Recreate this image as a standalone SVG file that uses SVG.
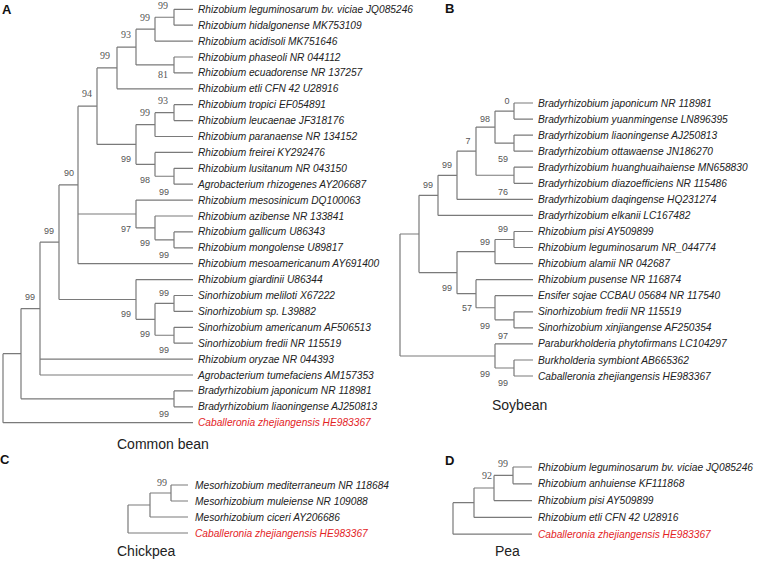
<svg xmlns="http://www.w3.org/2000/svg" width="760" height="561" viewBox="0 0 760 561">
<style>
.br{stroke:#7a7a7a;stroke-width:1.2;fill:none}
.lf{font-family:'Liberation Sans',Arial,sans-serif;font-style:italic;font-size:10.2px;fill:#222}
.red{fill:#e3241f}
.bs{font-family:'Liberation Serif','Times New Roman',serif;font-size:10px;fill:#555;text-anchor:middle}
.bn{font-family:'Liberation Sans',Arial,sans-serif;font-size:9px;fill:#555;text-anchor:middle}
.ttl{font-family:'Liberation Sans',Arial,sans-serif;font-size:14px;fill:#222}
.pl{font-family:'Liberation Sans',Arial,sans-serif;font-weight:bold;font-size:13px;fill:#111}
</style>
<rect width="760" height="561" fill="#fff"/>
<g id="connectors">
<path class="br" d="M3,353.7V422.7M3,353.7H21M3,422.7H193
M21,308.6V398.85M21,308.6H40M21,398.85H174
M40,242.2V375M40,242.2H59M40,359.1H193M40,375H193
M59,184.95V299.5M59,184.95H78M59,299.5H136
M78,106.2V263.7M78,106.2H97M78,214H136M78,263.7H193
M97,67.95V144.45M97,67.95H117M97,144.45H136
M117,47.1V88.8M117,47.1H136M117,88.8H193
M136,29.2V64.95M136,29.2H155M136,64.95H174
M155,17.25V41.1M155,17.25H174M155,41.1H193
M174,9.3V25.2M174,9.3H193M174,25.2H193
M174,57V72.9M174,57H193M174,72.9H193
M136,124.6V164.3M136,124.6H155M136,164.3H155
M155,112.65V136.5M155,112.65H174M155,136.5H193
M174,104.7V120.6M174,104.7H193M174,120.6H193
M155,152.4V176.25M155,152.4H193M155,176.25H174
M174,168.3V184.2M174,168.3H193M174,184.2H193
M136,200.1V227.9M136,200.1H193M136,227.9H155
M155,216V239.85M155,216H193M155,239.85H174
M174,231.9V247.8M174,231.9H193M174,247.8H193
M136,279.6V319.35M136,279.6H193M136,319.35H155
M155,303.45V335.25M155,303.45H174M155,335.25H174
M174,295.5V311.4M174,295.5H193M174,311.4H193
M174,327.3V343.2M174,327.3H193M174,343.2H193
M174,390.9V406.8M174,390.9H193M174,406.8H193"/>
<path class="br" d="M400,234V356M400,234H419M400,356H495
M419,195.35V272.6M419,195.35H438M419,272.6H457
M438,175.3V215.4M438,175.3H457M438,215.4H533
M457,151.2V199.4M457,151.2H476M457,199.4H533
M476,127.1V175.25M476,127.1H495M476,175.25H514
M495,111.05V143.15M495,111.05H514M495,143.15H514
M514,103V119.1M514,103H533M514,119.1H533
M514,135.1V151.2M514,135.1H533M514,151.2H533
M514,167.2V183.3M514,167.2H533M514,183.3H533
M457,251.55V293.7M457,251.55H495M457,293.7H476
M495,239.5V263.6M495,239.5H514M495,263.6H533
M514,231.5V247.5M514,231.5H533M514,247.5H533
M476,279.7V307.75M476,279.7H533M476,307.75H495
M495,295.7V319.8M495,295.7H533M495,319.8H514
M514,311.8V327.8M514,311.8H533M514,327.8H533
M495,343.9V368M495,343.9H533M495,368H514
M514,360V376M514,360H533M514,376H533"/>
<path class="br" d="M128,505V533M128,505H150M128,533H188
M150,493V517M150,493H171M150,517H188
M171,485V501M171,485H188M171,501H188"/>
<path class="br" d="M453,502.7V534.2M453,502.7H474M453,534.2H532
M474,488V517.4M474,488H494M474,517.4H532
M494,475.4V500.6M494,475.4H513M494,500.6H532
M513,467V483.8M513,467H532M513,483.8H532"/>
</g>
<g id="bootstrap">
<text class="bs" x="163" y="8.5">99</text>
<text class="bs" x="145" y="20.5">99</text>
<text class="bs" x="126" y="37.5">93</text>
<text class="bs" x="105" y="58.5">99</text>
<text class="bs" x="163" y="77.5">81</text>
<text class="bs" x="87" y="96.5">94</text>
<text class="bs" x="163" y="103.5">93</text>
<text class="bs" x="145" y="115.5">99</text>
<text class="bn" x="126" y="161.5">99</text>
<text class="bn" x="69" y="175.5">90</text>
<text class="bn" x="145" y="182.5">98</text>
<text class="bn" x="164" y="194.5">99</text>
<text class="bn" x="49" y="233.5">99</text>
<text class="bn" x="126" y="231.5">97</text>
<text class="bn" x="145" y="245.5">99</text>
<text class="bn" x="164" y="257.5">99</text>
<text class="bn" x="164" y="295.5">99</text>
<text class="bn" x="30" y="299.5">99</text>
<text class="bn" x="126" y="316.5">99</text>
<text class="bn" x="145" y="336.5">99</text>
<text class="bn" x="164" y="352.5">99</text>
<text class="bn" x="164" y="416.5">99</text>
<text class="bn" x="507" y="103.5">0</text>
<text class="bn" x="485" y="121.5">98</text>
<text class="bn" x="468" y="143.5">7</text>
<text class="bn" x="503" y="161.5">59</text>
<text class="bn" x="447" y="167.5">99</text>
<text class="bn" x="503" y="194.5">76</text>
<text class="bn" x="428" y="187.5">99</text>
<text class="bn" x="503" y="231.5">99</text>
<text class="bn" x="485" y="244.5">99</text>
<text class="bn" x="447" y="290.5">99</text>
<text class="bn" x="467" y="310.5">57</text>
<text class="bn" x="485" y="328.5">99</text>
<text class="bn" x="503" y="338.5">97</text>
<text class="bn" x="485" y="376.5">99</text>
<text class="bn" x="503" y="385.5">99</text>
<text class="bs" x="162" y="485.5">99</text>
<text class="bs" x="503" y="466.5">99</text>
<text class="bs" x="487" y="478.5">92</text>
</g>
<g id="titles">
<text class="pl" x="2" y="14">A</text>
<text class="pl" x="445" y="13">B</text>
<text class="pl" x="0" y="464">C</text>
<text class="pl" x="445" y="465">D</text>
<text class="ttl" x="117" y="449">Common bean</text>
<text class="ttl" x="492" y="410">Soybean</text>
<text class="ttl" x="117" y="556">Chickpea</text>
<text class="ttl" x="495" y="556">Pea</text>
</g>
<g id="taxa-A">
<g id="a1"><text class="lf" x="198" y="12.8">Rhizobium leguminosarum bv. viciae JQ085246</text></g>
<g id="a2"><text class="lf" x="198" y="28.7">Rhizobium hidalgonense MK753109</text></g>
<g id="a3"><text class="lf" x="198" y="44.6">Rhizobium acidisoli MK751646</text></g>
<g id="a4"><text class="lf" x="198" y="60.5">Rhizobium phaseoli NR 044112</text></g>
<g id="a5"><text class="lf" x="198" y="76.4">Rhizobium ecuadorense NR 137257</text></g>
<g id="a6"><text class="lf" x="198" y="92.3">Rhizobium etli CFN 42 U28916</text></g>
<g id="a7"><text class="lf" x="198" y="108.2">Rhizobium tropici EF054891</text></g>
<g id="a8"><text class="lf" x="198" y="124.1">Rhizobium leucaenae JF318176</text></g>
<g id="a9"><text class="lf" x="198" y="140">Rhizobium paranaense NR 134152</text></g>
<g id="a10"><text class="lf" x="198" y="155.9">Rhizobium freirei KY292476</text></g>
<g id="a11"><text class="lf" x="198" y="171.8">Rhizobium lusitanum NR 043150</text></g>
<g id="a12"><text class="lf" x="198" y="187.7">Agrobacterium rhizogenes AY206687</text></g>
<g id="a13"><text class="lf" x="198" y="203.6">Rhizobium mesosinicum DQ100063</text></g>
<g id="a14"><text class="lf" x="198" y="219.5">Rhizobium azibense NR 133841</text></g>
<g id="a15"><text class="lf" x="198" y="235.4">Rhizobium gallicum U86343</text></g>
<g id="a16"><text class="lf" x="198" y="251.3">Rhizobium mongolense U89817</text></g>
<g id="a17"><text class="lf" x="198" y="267.2">Rhizobium mesoamericanum AY691400</text></g>
<g id="a18"><text class="lf" x="198" y="283.1">Rhizobium giardinii U86344</text></g>
<g id="a19"><text class="lf" x="198" y="299">Sinorhizobium meliloti X67222</text></g>
<g id="a20"><text class="lf" x="198" y="314.9">Sinorhizobium sp. L39882</text></g>
<g id="a21"><text class="lf" x="198" y="330.8">Sinorhizobium americanum AF506513</text></g>
<g id="a22"><text class="lf" x="198" y="346.7">Sinorhizobium fredii NR 115519</text></g>
<g id="a23"><text class="lf" x="198" y="362.6">Rhizobium oryzae NR 044393</text></g>
<g id="a24"><text class="lf" x="198" y="378.5">Agrobacterium tumefaciens AM157353</text></g>
<g id="a25"><text class="lf" x="198" y="394.4">Bradyrhizobium japonicum NR 118981</text></g>
<g id="a26"><text class="lf" x="198" y="410.3">Bradyrhizobium liaoningense AJ250813</text></g>
<g id="a27"><text class="lf red" x="198" y="426.2">Caballeronia zhejiangensis HE983367</text></g>
</g>
<g id="taxa-B">
<g id="b1"><text class="lf" x="538" y="106.5">Bradyrhizobium japonicum NR 118981</text></g>
<g id="b2"><text class="lf" x="538" y="122.6">Bradyrhizobium yuanmingense LN896395</text></g>
<g id="b3"><text class="lf" x="538" y="138.6">Bradyrhizobium liaoningense AJ250813</text></g>
<g id="b4"><text class="lf" x="538" y="154.7">Bradyrhizobium ottawaense JN186270</text></g>
<g id="b5"><text class="lf" x="538" y="170.7">Bradyrhizobium huanghuaihaiense MN658830</text></g>
<g id="b6"><text class="lf" x="538" y="186.8">Bradyrhizobium diazoefficiens NR 115486</text></g>
<g id="b7"><text class="lf" x="538" y="202.9">Bradyrhizobium daqingense HQ231274</text></g>
<g id="b8"><text class="lf" x="538" y="218.9">Bradyrhizobium elkanii LC167482</text></g>
<g id="b9"><text class="lf" x="538" y="235">Rhizobium pisi AY509899</text></g>
<g id="b10"><text class="lf" x="538" y="251">Rhizobium leguminosarum NR_044774</text></g>
<g id="b11"><text class="lf" x="538" y="267.1">Rhizobium alamii NR 042687</text></g>
<g id="b12"><text class="lf" x="538" y="283.2">Rhizobium pusense NR 116874</text></g>
<g id="b13"><text class="lf" x="538" y="299.2">Ensifer sojae CCBAU 05684 NR 117540</text></g>
<g id="b14"><text class="lf" x="538" y="315.3">Sinorhizobium fredii NR 115519</text></g>
<g id="b15"><text class="lf" x="538" y="331.3">Sinorhizobium xinjiangense AF250354</text></g>
<g id="b16"><text class="lf" x="538" y="347.4">Paraburkholderia phytofirmans LC104297</text></g>
<g id="b17"><text class="lf" x="538" y="363.5">Burkholderia symbiont AB665362</text></g>
<g id="b18"><text class="lf" x="538" y="379.5">Caballeronia zhejiangensis HE983367</text></g>
</g>
<g id="taxa-C">
<g id="c1"><text class="lf" x="195" y="488.5">Mesorhizobium mediterraneum NR 118684</text></g>
<g id="c2"><text class="lf" x="195" y="504.5">Mesorhizobium muleiense NR 109088</text></g>
<g id="c3"><text class="lf" x="195" y="520.5">Mesorhizobium ciceri AY206686</text></g>
<g id="c4"><text class="lf red" x="195" y="536.5">Caballeronia zhejiangensis HE983367</text></g>
</g>
<g id="taxa-D">
<g id="d1"><text class="lf" x="538" y="470.5">Rhizobium leguminosarum bv. viciae JQ085246</text></g>
<g id="d2"><text class="lf" x="538" y="487.3">Rhizobium anhuiense KF111868</text></g>
<g id="d3"><text class="lf" x="538" y="504.1">Rhizobium pisi AY509899</text></g>
<g id="d4"><text class="lf" x="538" y="520.9">Rhizobium etli CFN 42 U28916</text></g>
<g id="d5"><text class="lf red" x="538" y="537.7">Caballeronia zhejiangensis HE983367</text></g>
</g>
</svg>
